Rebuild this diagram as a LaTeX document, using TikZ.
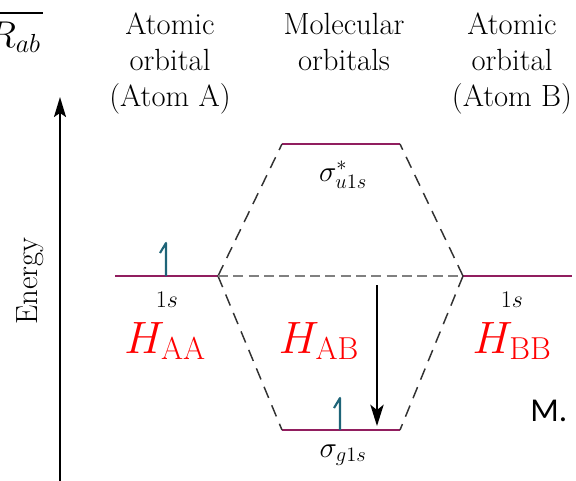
\documentclass[tikz,border=0pt]{standalone}
\usepackage{fix-cm}
\usepackage{fontspec}
\setmainfont{Latin Modern Roman}
\newfontfamily\calibri{Carlito}
\usepackage{tikz}
\usetikzlibrary{arrows.meta}

\definecolor{levelcol}{RGB}{145,30,95}
\definecolor{spincol}{RGB}{30,100,120}
\definecolor{dashcol}{RGB}{50,50,50}

\begin{document}
\begin{tikzpicture}[x=0.75pt,y=-0.75pt,
    level/.style={draw=levelcol,line width=2.2pt},
    corr/.style={draw=dashcol,line width=1.1pt,dash pattern=on 9pt off 6pt},
    mid/.style={draw=gray,line width=0.9pt,dash pattern=on 7.5pt off 4pt},
    spin/.style={draw=spincol,line width=1.6pt,line join=round},
    head/.style={align=center,inner sep=0pt,font=\fontsize{23}{27}\selectfont},
    orb/.style={inner sep=0pt,font=\fontsize{18}{21}\selectfont},
    mo/.style={inner sep=0pt,font=\fontsize{22}{26}\selectfont},
    ham/.style={inner sep=0pt,text=red,font=\fontsize{34}{40}\selectfont},
    gapar/.style={draw=black,line width=1.5pt,-{Stealth[length=16pt,width=10pt,inset=4pt]}}
  ]
  \useasboundingbox (0,0) rectangle (576,480);

  % headers
  \node[head,anchor=north] (hdA) at (170,13) {Atomic\\orbital\\(Atom A)};
  \node[head,anchor=north] (hdM) at (344,13) {Molecular\\orbitals};
  \node[head,anchor=north] (hdB) at (512,13) {Atomic\\orbital\\(Atom B)};

  % cut-off bits at the edges
  \node[inner sep=0pt,anchor=base east,font=\fontsize{28}{32}\selectfont] (rab) at (41,47) {$R_{ab}$};
  \coordinate (barL) at (-5,13);
  \coordinate (barR) at (43,13);
  \draw[line width=1.2pt] (barL) -- (barR);
  \node[inner sep=0pt,anchor=base west,font=\calibri\fontsize{25}{30}\selectfont] (mark) at (530,421) {M.};

  % energy axis
  \coordinate (eBot) at (60,490);
  \coordinate (eTop) at (60,97);
  \draw[line width=1.5pt,-{Stealth[length=15pt,width=9pt,inset=3pt]}] (eBot) -- (eTop);
  \node[rotate=90,inner sep=0pt,font=\fontsize{23}{27}\selectfont] (en) at (30,281) {Energy};

  % levels
  \coordinate (aL) at (115,276);
  \coordinate (aR) at (218,276);
  \coordinate (bL) at (463,276);
  \coordinate (bR) at (572,276);
  \coordinate (uL) at (282,144);
  \coordinate (uR) at (400,144);
  \coordinate (gL) at (282,430);
  \coordinate (gR) at (400,430);
  \draw[level] (aL) -- (aR);
  \draw[level] (bL) -- (bR);
  \draw[level] (uL) -- (uR);
  \draw[level] (gL) -- (gR);

  % correlation lines
  \draw[corr] (aR) -- (uL);
  \draw[corr] (aR) -- (gL);
  \draw[corr] (bL) -- (uR);
  \draw[corr] (bL) -- (gR);
  \draw[mid] (aR) -- (bL);

  % electrons
  \coordinate (spA) at (166,276);
  \coordinate (spG) at (340,430);
  \draw[spin] (spA) -- ++(0,-33) -- ++(-6,10);
  \draw[spin] (spG) -- ++(0,-32) -- ++(-6,10);

  % stabilisation
  \coordinate (gapTop) at (377,285);
  \coordinate (gapBot) at (377,426);
  \draw[gapar] (gapTop) -- (gapBot);

  % labels
  \node[orb,anchor=base] (sA) at (167,307) {1$s$};
  \node[orb,anchor=base] (sB) at (512,307) {1$s$};
  \node[mo,anchor=base] (suLab) at (343,181) {$\sigma^{*}_{u1s}$};
  \node[mo,anchor=base] (sgLab) at (343,457) {$\sigma_{g1s}$};
  \node[ham,anchor=base] (hAA) at (165,353) {$H_{\mathrm{AA}}$};
  \node[ham,anchor=base] (hAB) at (319,353) {$H_{\mathrm{AB}}$};
  \node[ham,anchor=base] (hBB) at (512,353) {$H_{\mathrm{BB}}$};
\end{tikzpicture}
\end{document}
